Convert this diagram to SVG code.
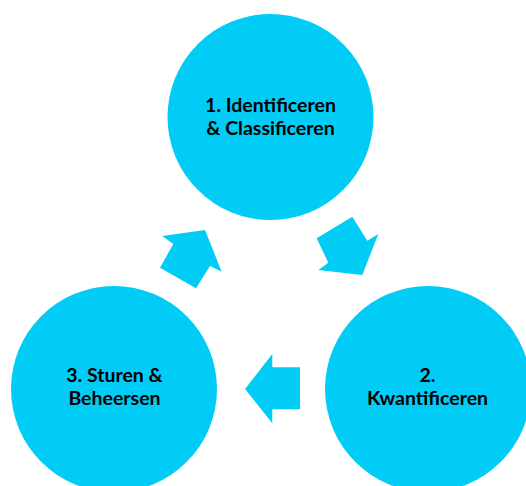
<svg xmlns="http://www.w3.org/2000/svg" width="526" height="486" viewBox="0 0 526 486">
<style>
.node{fill:#00CCF5}
.arrow{fill:#00CCF5}
.lbl{font-family:Lato,"Liberation Sans",sans-serif;font-weight:bold;font-size:19.5px;fill:#000;text-anchor:middle}
</style>
<rect width="526" height="486" fill="#fff"/>
<g id="connectors">
<polygon class="arrow" points="205,230 221.7,271.7 210,266 196,288.3 160,267.7 173.3,244 162.3,236"/>
<polygon class="arrow" points="316.7,238.3 352.3,216.7 367.3,240.7 378.3,234 362.3,275 318.3,270 328.3,262.7"/>
<polygon class="arrow" points="245,389 272.3,354 272.3,367.3 300,367.3 300,409.3 272.3,409.3 272.3,423.3"/>
</g>
<g id="node1">
<circle class="node" cx="270.5" cy="117" r="103"/>
<text class="lbl" x="270.5" y="112">1. Identificeren</text>
<text class="lbl" x="270.5" y="135">&amp; Classificeren</text>
</g>
<g id="node2">
<circle class="node" cx="428" cy="389" r="103"/>
<text class="lbl" x="427.5" y="382">2.</text>
<text class="lbl" x="427.5" y="405">Kwantificeren</text>
</g>
<g id="node3">
<circle class="node" cx="114" cy="389" r="103"/>
<text class="lbl" x="114.5" y="382">3. Sturen &amp;</text>
<text class="lbl" x="114.5" y="405">Beheersen</text>
</g>
</svg>
